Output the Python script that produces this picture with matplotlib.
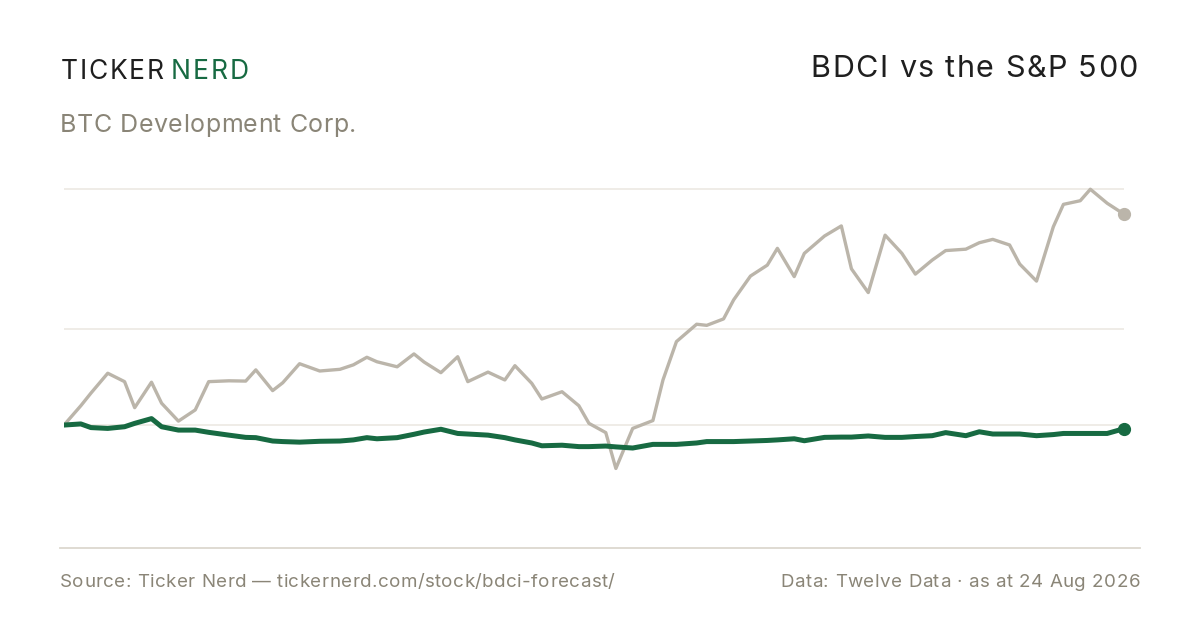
import matplotlib
matplotlib.use("Agg")
import matplotlib.pyplot as plt
from matplotlib.lines import Line2D
import pandas as pd

# --- data ---
start_date = pd.Timestamp("2025-10-13")
day_offsets = [0, 5, 8, 13, 18, 21, 26, 29, 34, 39, 43, 49, 54, 57, 62, 65,
               70, 76, 82, 86, 90, 93, 99, 104, 107, 112, 117, 120, 126, 131,
               134, 139, 142, 148, 153, 156, 161, 164, 169, 175, 178, 182, 188,
               191, 196, 199, 204, 209, 212, 217, 220, 226, 231, 234, 239, 244,
               249, 253, 258, 262, 268, 272, 276, 281, 284, 289, 294, 297, 302,
               305, 310, 315]
bdci_price = [6.57, 7.26, 7.71, 8.42, 8.12, 7.19, 8.10, 7.35, 6.71, 7.11, 8.12,
              8.15, 8.14, 8.54, 7.80, 8.08, 8.76, 8.50, 8.56, 8.72, 8.99, 8.83,
              8.65, 9.11, 8.82, 8.44, 9.01, 8.12, 8.46, 8.18, 8.69, 8.06, 7.50,
              7.76, 7.26, 6.63, 6.30, 5.02, 6.45, 6.73, 8.18, 9.55, 10.17, 10.13,
              10.36, 11.04, 11.89, 12.28, 12.88, 11.87, 12.70, 13.32, 13.68,
              12.15, 11.30, 13.35, 12.70, 11.96, 12.46, 12.80, 12.85, 13.08,
              13.20, 13.00, 12.32, 11.71, 13.65, 14.45, 14.58, 14.99, 14.49,
              14.10]
spx_rebased = [6.57, 6.61, 6.48, 6.45, 6.51, 6.63, 6.80, 6.51, 6.39, 6.39, 6.31,
               6.21, 6.13, 6.12, 6.00, 5.98, 5.96, 5.99, 6.00, 6.04, 6.12, 6.08,
               6.12, 6.24, 6.32, 6.42, 6.27, 6.25, 6.21, 6.12, 6.04, 5.93, 5.83,
               5.85, 5.80, 5.80, 5.82, 5.79, 5.75, 5.88, 5.88, 5.88, 5.93, 5.98,
               5.98, 5.98, 6.00, 6.02, 6.04, 6.08, 6.01, 6.13, 6.14, 6.14, 6.18,
               6.13, 6.13, 6.16, 6.19, 6.30, 6.19, 6.33, 6.25, 6.25, 6.25, 6.19,
               6.23, 6.27, 6.27, 6.27, 6.27, 6.44]
grid_levels = [10, 15]

title = "BDCI vs the S&P 500"
subtitle = "BTC Development Corp."
source_note = "Source: Ticker Nerd \u2014 tickernerd.com/stock/bdci-forecast/"
data_note = "Data: Twelve Data \u00b7 as at 24 Aug 2026"

GREEN = "#176a42"
GRAY_LINE = "#bbb5aa"
GRID = "#ece9e3"
MUTED = "#8a8577"
INK = "#1f1f1f"

plt.rcParams["font.family"] = ["Inter", "DejaVu Sans"]

dates = start_date + pd.to_timedelta(day_offsets, unit="D")

W, H = 1200, 630
fig = plt.figure(figsize=(W / 100, H / 100), dpi=100)
fig.patch.set_facecolor("white")


def fx(px):
    return px / W


def fy(py):
    return 1 - py / H


ax = fig.add_axes([fx(64), fy(548), 1060 / W, (548 - 180) / H])
ax.set_xlim(dates[0], dates[-1])
ax.set_ylim(2.18, 15.32)
ax.axis("off")

for lvl in grid_levels:
    ax.axhline(lvl, color=GRID, lw=1.2, zorder=0)
ax.axhline(bdci_price[0], color=GRID, lw=1.2, zorder=0)

ax.plot(dates, bdci_price, color=GRAY_LINE, lw=2.4, zorder=2,
        solid_capstyle="round")
ax.plot(dates[-1], bdci_price[-1], "o", color=GRAY_LINE, ms=8.5,
        clip_on=False, zorder=3)
ax.plot(dates, spx_rebased, color=GREEN, lw=3.6, zorder=4,
        solid_capstyle="round")
ax.plot(dates[-1], spx_rebased[-1], "o", color=GREEN, ms=8.5,
        clip_on=False, zorder=5)

# footer rule
fig.add_artist(Line2D([fx(60), fx(1140)], [fy(548), fy(548)],
                      color="#dcd8cf", lw=1.3))

# text with letter spacing
fig.canvas.draw()
renderer = fig.canvas.get_renderer()


def text_w(s, size):
    t = fig.text(0, 0, s, fontsize=size)
    w = t.get_window_extent(renderer).width
    t.remove()
    return w


def spaced(x_px, y_px, s, color, size, gap, ha="left"):
    ref = text_w("x", size)
    offs = [text_w(s[:i] + "x", size) - ref + i * gap for i in range(len(s))]
    total = text_w(s, size) + (len(s) - 1) * gap
    x0 = x_px - total if ha == "right" else x_px
    for ch, o in zip(s, offs):
        if ch != " ":
            fig.text(fx(x0 + o), fy(y_px), ch, color=color, fontsize=size,
                     va="baseline", ha="left")
    return x0 + total


x_end = spaced(61, 79, "TICKER", INK, 19, 1.7)
spaced(x_end + 7, 79, "NERD", GREEN, 19, 1.9)

spaced(60, 132, subtitle, MUTED, 18, 0.5)
spaced(1138, 77, title, INK, 22, 1.4, ha="right")
spaced(60, 587, source_note, MUTED, 13.5, 0.4)
spaced(1140, 587, data_note, MUTED, 13.5, 0.5, ha="right")

fig.savefig("out.png", dpi=100, facecolor="white")
